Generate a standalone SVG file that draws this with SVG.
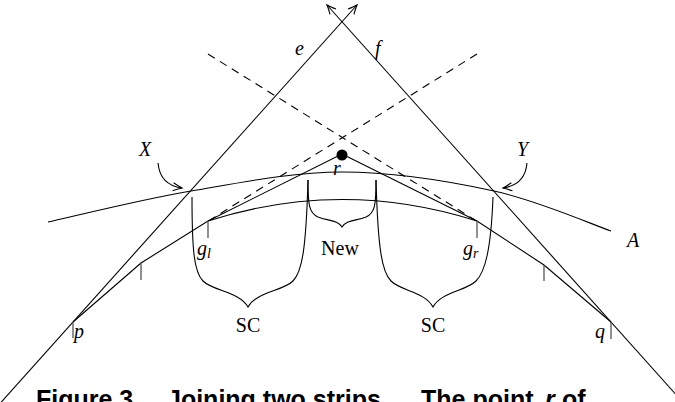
<svg xmlns="http://www.w3.org/2000/svg" width="675" height="402" viewBox="0 0 675 402">
<defs>
<style>
.ln{fill:none;stroke:#000;stroke-width:1.1}
.dash{fill:none;stroke:#000;stroke-width:1.1;stroke-dasharray:8 6}
.tick{fill:none;stroke:#555;stroke-width:1.3}
.lab{font-family:"Liberation Serif",serif;font-size:20px;fill:#000}
.it{font-style:italic}
.cap{font-family:"Liberation Sans",Arial,sans-serif;font-weight:bold;font-size:25px;fill:#000}
</style>
<marker id="arr" viewBox="-10 -6 12 12" refX="0" refY="0" markerWidth="12" markerHeight="12" markerUnits="userSpaceOnUse" orient="auto" overflow="visible">
<path d="M-9,-4 Q-3,-1 0,0 Q-3,1 -9,4" fill="none" stroke="#000" stroke-width="1.1"/>
</marker>
</defs>
<rect width="675" height="402" fill="#fff"/>

<g id="lines">
<line id="line-e" class="ln" x1="0" y1="403.5" x2="357" y2="5" marker-end="url(#arr)"/>
<line id="line-f" class="ln" x1="684" y1="403.5" x2="327" y2="5" marker-end="url(#arr)"/>
<line class="dash" x1="208" y1="54" x2="475" y2="220"/>
<line class="dash" x1="477" y1="54" x2="210" y2="220"/>
<line class="ln" x1="342" y1="154" x2="208" y2="221"/>
<line class="ln" x1="342" y1="154" x2="477" y2="221"/>
<path id="curve-A" class="ln" d="M48,222 C71.8,216.8 142,199.3 191,191 C240,182.7 291.5,172 342,172 C392.5,172 449.2,181.2 494,191 C538.8,200.8 591.5,224.3 611,231"/>
<path id="hull" class="ln" d="M73,322 L141,263 L208,221 Q342,178 477,221 L544,265 L611,322"/>
<path id="arrow-X" class="ln" d="M158,163 Q160,185 182,188" marker-end="url(#arr)"/>
<path id="arrow-Y" class="ln" d="M527,163 Q525,185 503,188" marker-end="url(#arr)"/>
</g>

<g id="ticks">
<line class="tick" x1="73" y1="322" x2="73" y2="338"/>
<line class="tick" x1="141" y1="263" x2="141" y2="280"/>
<line class="tick" x1="208" y1="221" x2="208" y2="238"/>
<line class="tick" x1="477" y1="221" x2="477" y2="238"/>
<line class="tick" x1="544" y1="265" x2="544" y2="281"/>
<line class="tick" x1="611" y1="322" x2="611" y2="339"/>
</g>

<g id="braces">
<path id="brace-SC-left" class="ln" d="M192,197 C192,250 194,272 203,281 C213,291 240,292 248,307 C256,292 283,291 293,281 C302,272 306,250 308,180"/>
<path id="brace-New" class="ln" d="M308,180 C308,205 309,213 318,217 C328,221 338,220 342,227 C346,220 356,221 366,217 C375,213 376,205 376,180"/>
<path id="brace-SC-right" class="ln" d="M376,180 C378,250 382,272 391,281 C401,291 425,292 433,307 C441,292 466,291 476,281 C485,272 491,250 493,197"/>
</g>

<g id="point-r">
<circle cx="342" cy="155" r="5.5" fill="#000"/>
</g>

<g id="labels">
<text class="lab it" x="295" y="55">e</text>
<text class="lab it" x="375" y="55">f</text>
<text class="lab it" x="139" y="156">X</text>
<text class="lab it" x="517" y="156">Y</text>
<text class="lab it" x="333" y="175">r</text>
<text class="lab" x="340" y="255" text-anchor="middle">New</text>
<text class="lab it" x="197" y="255">g<tspan font-size="14" dy="3">l</tspan></text>
<text class="lab it" x="463" y="255">g<tspan font-size="14" dy="3">r</tspan></text>
<text class="lab it" x="627" y="247">A</text>
<text class="lab" x="248" y="332" text-anchor="middle">SC</text>
<text class="lab" x="433" y="332" text-anchor="middle">SC</text>
<text class="lab it" x="74" y="338">p</text>
<text class="lab it" x="595" y="338">q</text>
</g>

<g id="caption">
<text class="cap" x="36" y="408">Figure 3.</text>
<text class="cap" x="167" y="408">Joining two strips.</text>
<text class="cap" x="421" y="408">The point</text>
<text class="cap" x="545" y="408" font-style="italic" font-weight="normal" font-family="Liberation Serif,serif">r</text>
<text class="cap" x="562" y="408">of</text>
</g>
</svg>
